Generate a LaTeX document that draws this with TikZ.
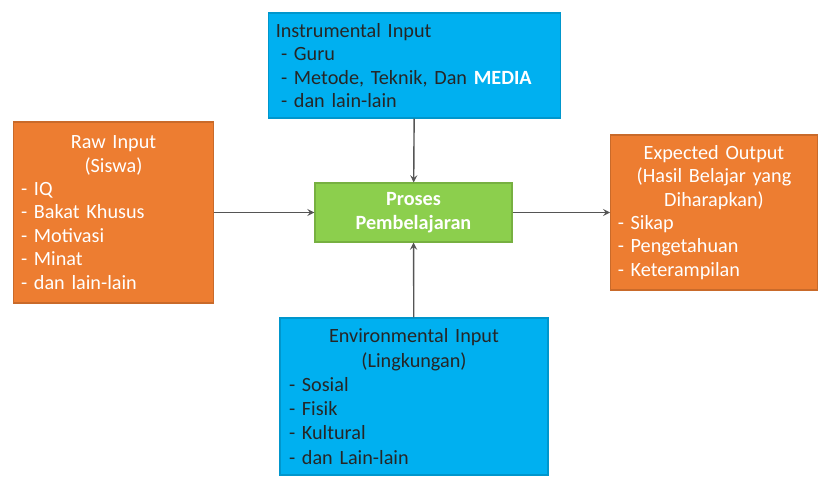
\documentclass[tikz,border=0pt]{standalone}
\usepackage{fontspec}
\setmainfont{Carlito}
\usepackage{tikz}
\usetikzlibrary{positioning,shapes,arrows}

\definecolor{oranye}{HTML}{ED7D31}
\definecolor{biru}{HTML}{00B0F0}
\definecolor{hijau}{HTML}{8CCF4D}
\definecolor{garis}{HTML}{555555}

\begin{document}
\begin{tikzpicture}[
				box/.style={rectangle, draw, line width=0.6pt, inner sep=4pt, font=\fontsize{11.5}{13.3}\selectfont},
				obox/.style={box, fill=oranye, draw=oranye!85!black, text=white},
				bbox/.style={box, fill=biru, draw=biru!85!black, text=black!85},
				gbox/.style={box, fill=hijau, draw=hijau!85!black, text=white, font=\fontsize{11.5}{13.5}\selectfont\bfseries, align=center},
				link/.style={->, >=stealth, draw=garis, line width=0.8pt}
				]
				\useasboundingbox (0,0) rectangle (16.56,-9.58);
				% proses di tengah
				\node[gbox, minimum width=3.94cm, minimum height=1.18cm] (proses) at (8.27,-4.25) {Proses\\Pembelajaran};
				% input dan output
				\node[obox, minimum width=3.94cm, minimum height=3.62cm, text width=3.7cm] (raw) at (2.27,-4.25)
					{\centering Raw Input\\(Siswa)\par\raggedright - IQ\\- Bakat Khusus\\- Motivasi\\- Minat\\- dan lain-lain\par};
				\node[obox, minimum width=4.08cm, minimum height=3.1cm, text width=3.85cm] (output) at (14.28,-4.25)
					{\centering Expected Output\\(Hasil Belajar yang\\Diharapkan)\par\raggedright - Sikap\\- Pengetahuan\\- Keterampilan\par};
				\node[bbox, minimum width=5.7cm, minimum height=2.1cm, text width=5.55cm] (instrumental) at (8.29,-1.31)
					{\raggedright Instrumental Input\\\hspace*{3pt}- Guru\\\hspace*{3pt}- Metode, Teknik, Dan {\color{white}\bfseries MEDIA}\\\hspace*{3pt}- dan lain-lain\par};
				\node[bbox, minimum width=5.36cm, minimum height=3.14cm, text width=5.0cm, font=\fontsize{11.5}{13.8}\selectfont] (environmental) at (8.28,-7.93)
					{\centering Environmental Input\\(Lingkungan)\par\raggedright - Sosial\\- Fisik\\- Kultural\\- dan Lain-lain\par};
				
				\draw[link] (raw) -- (proses);
				\draw[link] (instrumental) -- (proses);
				\draw[link] (environmental) -- (proses);
				\draw[link] (proses) -- (output);
			\end{tikzpicture}
\end{document}
